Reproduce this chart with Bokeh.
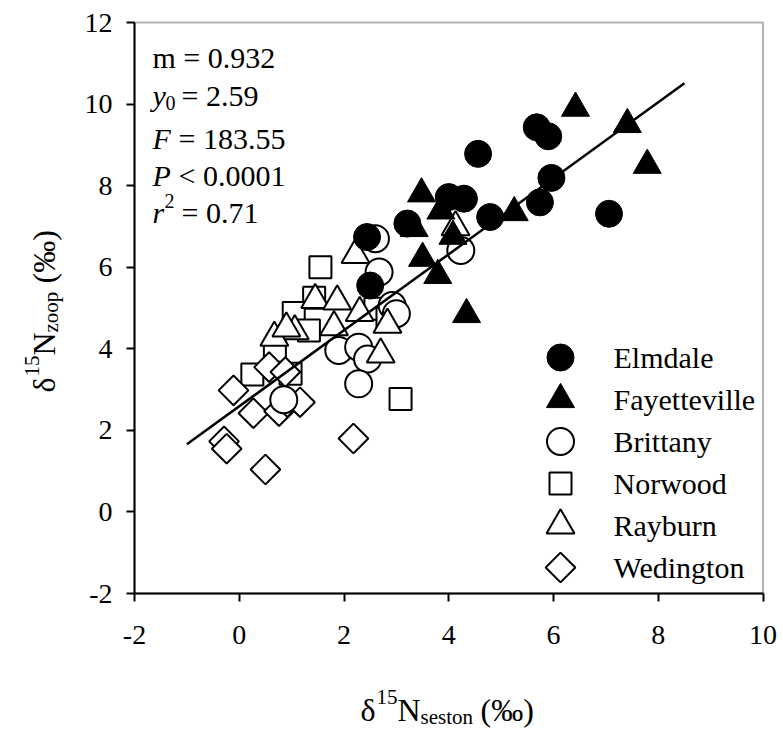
import math
from bokeh.plotting import figure
from bokeh.models import Range1d, Label, FixedTicker, BoxAnnotation
from bokeh.embed import file_html
from bokeh.resources import INLINE

# ---------------- data ----------------
elmdale_x = [2.44, 2.50, 3.21, 4.00, 4.29, 4.56, 4.79, 5.68, 5.90, 5.74, 5.96, 7.06]
elmdale_y = [6.74, 5.55, 7.07, 7.72, 7.68, 8.78, 7.23, 9.43, 9.21, 7.59, 8.19, 7.31]

fayette_x = [6.42, 7.41, 7.79, 5.25, 3.48, 3.85, 4.08, 3.34, 3.50, 3.79, 4.34]
fayette_y = [9.90, 9.50, 8.50, 7.34, 7.80, 7.38, 6.76, 6.95, 6.22, 5.80, 4.84]

brittany_x = [4.23, 2.60, 2.67, 2.92, 3.00, 1.90, 2.28, 2.45, 2.28, 0.85]
brittany_y = [6.41, 6.70, 5.88, 5.06, 4.86, 3.96, 4.04, 3.75, 3.14, 2.75]

norwood_x = [1.55, 1.43, 1.04, 1.33, 0.68, 0.25, 0.98, 2.60, 2.83, 3.08]
norwood_y = [6.00, 5.25, 4.88, 4.45, 3.95, 3.37, 3.39, 4.98, 4.74, 2.77]

rayburn_x = [2.22, 1.45, 1.87, 2.30, 2.83, 1.81, 1.06, 0.67, 0.90, 2.70, 4.13]
rayburn_y = [6.30, 5.20, 5.16, 4.88, 4.59, 4.53, 4.43, 4.27, 4.50, 3.86, 6.98]

wedington_x = [-0.11, 0.27, 0.76, 0.92, 1.16, -0.29, -0.24, 0.50, 2.18, 0.57, 0.88]
wedington_y = [2.98, 2.42, 2.47, 2.69, 2.69, 1.73, 1.55, 1.04, 1.80, 3.55, 3.43]

lake_names = ["Elmdale", "Fayetteville", "Brittany", "Norwood", "Rayburn", "Wedington"]

fit_slope = 0.932
fit_intercept = 2.59
fit_x = [-1.0, 8.5]

x_ticks = [-2, 0, 2, 4, 6, 8, 10]
y_ticks = [-2, 0, 2, 4, 6, 8, 10, 12]

# ---------------- geometry ----------------
W, H = 783, 730
BOX_L, BOX_R, BOX_T, BOX_B = 134, 762.5, 22, 593
XMIN, XMAX, YMIN, YMAX = -2, 10, -2, 12
SX = (BOX_R - BOX_L) / (XMAX - XMIN)
SY = (BOX_B - BOX_T) / (YMAX - YMIN)


def px_x(px):
    return XMIN + (px - BOX_L) / SX


def px_y(py):
    return YMAX - (py - BOX_T) / SY


FONT = "Liberation Serif"
TICK_FS = "28px"
FS = "30px"
SUB = "20px"
TITLE_FS = "32px"
TITLE_SUB = "21px"
NB = "\u00a0"

p = figure(width=W, height=H,
           x_range=Range1d(XMIN - BOX_L / SX, XMAX + (W - BOX_R) / SX),
           y_range=Range1d(YMIN - (H - BOX_B) / SY, YMAX + BOX_T / SY),
           output_backend="svg", toolbar_location=None,
           min_border=0, min_border_left=0, min_border_right=0,
           min_border_top=0, min_border_bottom=0)
p.grid.visible = False
p.outline_line_color = None
p.background_fill_color = "white"
p.border_fill_color = "white"

for ax, ticks, lo, hi, loc in ((p.xaxis[0], x_ticks, XMIN, XMAX, YMIN),
                               (p.yaxis[0], y_ticks, YMIN, YMAX, XMIN)):
    ax.fixed_location = loc
    ax.bounds = (lo, hi)
    ax.ticker = FixedTicker(ticks=ticks)
    ax.major_label_overrides = {t: str(t) for t in ticks}
    ax.axis_line_width = 2
    ax.axis_line_color = "black"
    ax.major_tick_line_width = 2
    ax.major_tick_line_color = "black"
    ax.major_tick_out = 8
    ax.major_tick_in = 0
    ax.minor_tick_line_color = None
    ax.major_label_text_font = FONT
    ax.major_label_text_font_size = TICK_FS
    ax.major_label_text_color = "black"
p.xaxis.major_label_standoff = 24
p.yaxis.major_label_standoff = 14

# plot box (top and right sides)
p.add_layout(BoxAnnotation(left=XMIN, right=XMAX, bottom=YMIN, top=YMAX,
                           fill_alpha=0, fill_color=None,
                           line_color="black", line_width=2))

open_kw = dict(fill_color="white", line_color="black", line_width=2)
styles = [
    dict(marker="circle", size=27, fill_color="black", line_color="black"),
    dict(marker="triangle", size=28, fill_color="black", line_color="black"),
    dict(marker="circle", size=27, **open_kw),
    dict(marker="square", size=22, **open_kw),
    dict(marker="triangle", size=28, **open_kw),
    dict(marker="square", size=21, angle=math.pi / 4, **open_kw),
]
series = [(elmdale_x, elmdale_y), (fayette_x, fayette_y), (brittany_x, brittany_y),
          (norwood_x, norwood_y), (rayburn_x, rayburn_y), (wedington_x, wedington_y)]

draw_order = [3, 5, 2, 4, 1, 0]
for i in draw_order:
    xs, ys = series[i]
    p.scatter(xs, ys, **styles[i])

fit_y = [fit_slope * x + fit_intercept for x in fit_x]
p.line(fit_x, fit_y, line_color="black", line_width=2.5)


def lab(text, px, py, size=FS, style="normal", angle=0.0, baseline="alphabetic"):
    p.add_layout(Label(x=px, y=H - py, x_units="screen", y_units="screen", text=text,
                       text_font=FONT, text_font_size=size, text_font_style=style,
                       text_color="black", text_align="left", text_baseline=baseline,
                       angle=angle))


# legend (manual, so that keys keep the plot's marker sizes)
LEG_KEY_X, LEG_TEXT_X, LEG_Y0, LEG_DY = 560, 613, 357, 42
for i, name in enumerate(lake_names):
    cy = LEG_Y0 + LEG_DY * i
    p.scatter([px_x(LEG_KEY_X)], [px_y(cy)], **styles[i])
    lab(name, LEG_TEXT_X, cy, baseline="middle")

# statistics block
lab("m = 0.932", 152, 57)
lab("y", 152, 95, style="italic")
lab("0", 165, 102, size=SUB)
lab("= 2.59", 181, 95)
lab("F", 152, 138, style="italic")
lab("= 183.55", 178, 138)
lab("P", 152, 175, style="italic")
lab("< 0.0001", 178, 175)
lab("r", 152, 212, style="italic")
lab("2", 164, 200, size=SUB)
lab("= 0.71", 181, 212)

# x-axis title
lab("\u03b4", 360, 709, size=TITLE_FS)
lab("15", 376, 696, size=TITLE_SUB)
lab("N", 397, 709, size=TITLE_FS)
lab("seston", 420, 716, size=TITLE_SUB)
lab(NB + "(\u2030)", 472, 709, size=TITLE_FS)

# y-axis title (rotated)
A = math.pi / 2
lab("\u03b4", 43, 392, size=TITLE_FS, angle=A)
lab("15", 31, 376, size=TITLE_SUB, angle=A)
lab("N", 43, 355, size=TITLE_FS, angle=A)
lab("zoop", 50, 332, size=TITLE_SUB, angle=A)
lab(NB + "(\u2030)", 43, 291, size=TITLE_FS, angle=A)

open("out.html", "w").write(file_html(p, INLINE))
